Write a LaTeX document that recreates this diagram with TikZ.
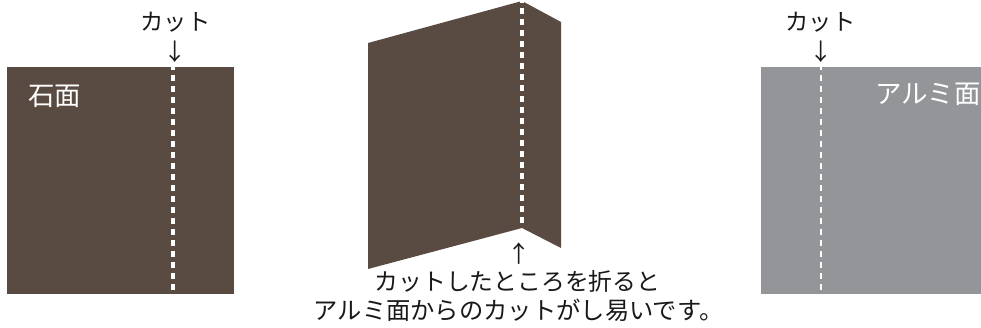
\documentclass[tikz,border=0pt]{standalone}
\usepackage{fontspec}
\newfontfamily\cjk{Noto Sans CJK JP}
\definecolor{stone}{HTML}{594A42}
\definecolor{alu}{HTML}{939598}
\tikzset{
 x=1pt,y=-1pt,
 cutline/.style={draw=white,line width=3.4pt,dash pattern=on 5.5pt off 5.5pt,dash phase=#1},
 cutline/.default=3pt,
 lbl/.style={inner sep=0pt,font=\cjk\fontsize{23.3}{28}\selectfont,text=black!90},
 notelbl/.style={lbl,font=\cjk\fontsize{#1}{28}\selectfont},
 facelbl/.style={lbl,text=white,font=\cjk\fontsize{26.5}{30}\selectfont},
 arrowlbl/.style={lbl}
}
\begin{document}
\begin{tikzpicture}
\useasboundingbox (0,0) rectangle (981,327);
\fill[stone] (7,67) rectangle (234,294);
\coordinate (c1t) at (173,67); \coordinate (c1b) at (173,294);
\draw[cutline] (c1t) -- (c1b);
\node[facelbl] (stonef) at (54.5,96) {石面};
\node[lbl] (cut1) at (175.5,22) {カット};
\node[arrowlbl] (arr1) at (175,52) {↓};
\fill[stone] (368,43) -- (522,1) -- (561,22) -- (561,248) -- (522,228) -- (368,269) -- cycle;
\coordinate (c2t) at (522,1); \coordinate (c2b) at (522,228);
\draw[cutline=4pt] (c2t) -- (c2b);
\node[arrowlbl] (arr2) at (519,254) {↑};
\node[notelbl=23.8] (note1) at (517.5,281) {カットしたところを折ると};
\node[notelbl=24.3] (note2) at (518.5,310) {アルミ面からのカットがし易いです。};
\fill[alu] (761,67) rectangle (981,294);
\coordinate (c3t) at (821,67); \coordinate (c3b) at (821,294);
\draw[cutline,line width=2.6pt] (c3t) -- (c3b);
\node[facelbl] (alumf) at (928,94) {アルミ面};
\node[lbl] (cut2) at (820.5,22) {カット};
\node[arrowlbl] (arr3) at (821,52) {↓};
\end{tikzpicture}
\end{document}
